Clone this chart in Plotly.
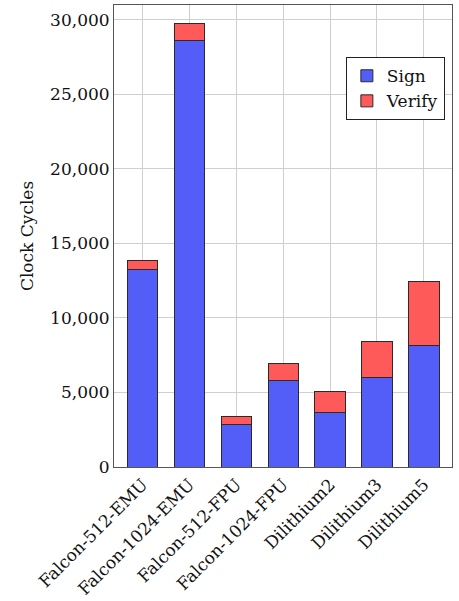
import plotly.graph_objects as go

categories = ["Falcon-512-EMU", "Falcon-1024-EMU", "Falcon-512-FPU", "Falcon-1024-FPU",
              "Dilithium2", "Dilithium3", "Dilithium5"]
sign = [13280, 28600, 2845, 5795, 3670, 5995, 8140]
verify = [560, 1140, 555, 1140, 1405, 2455, 4315]
y_ticks = [0, 5000, 10000, 15000, 20000, 25000, 30000]
y_tick_labels = ["0", "5,000", "10,000", "15,000", "20,000", "25,000", "30,000"]

FONT = "DejaVu Serif"
x = list(range(len(categories)))

fig = go.Figure()
fig.add_trace(go.Bar(x=x, y=sign, name="Sign", width=0.65,
                     marker=dict(color="#535EF8", line=dict(color="#2a2a2a", width=1))))
fig.add_trace(go.Bar(x=x, y=verify, name="Verify", width=0.65,
                     marker=dict(color="#FF5A5A", line=dict(color="#2a2a2a", width=1))))

fig.update_layout(
    width=459, height=601,
    margin=dict(l=114, r=7, t=5, b=134),
    barmode="stack",
    plot_bgcolor="white", paper_bgcolor="white",
    font=dict(family=FONT, size=17, color="#111"),
    legend=dict(x=0.686, y=0.887, xanchor="left", yanchor="top",
                bordercolor="#222", borderwidth=1, bgcolor="white",
                font=dict(size=17, family=FONT), traceorder="normal",
                itemwidth=30, tracegroupgap=0),
    xaxis=dict(range=[-0.61, 6.6], tickmode="array", tickvals=x, ticktext=categories,
               tickangle=-45, showgrid=True, gridcolor="#cfcfcf", gridwidth=1,
               showline=True, linecolor="#555", linewidth=1, mirror=True, automargin=False,
               ticks="", tickfont=dict(size=17, family=FONT), zeroline=False),
    yaxis=dict(range=[0, 31000], tickmode="array", tickvals=y_ticks, ticktext=y_tick_labels,
               showgrid=True, gridcolor="#cfcfcf", gridwidth=1, automargin=False,
               showline=True, linecolor="#555", linewidth=1, mirror=True,
               ticks="", tickfont=dict(size=17, family=FONT), zeroline=False,
               title=dict(text="Clock Cycles", font=dict(size=17, family=FONT), standoff=12)),
)

fig.write_html("out.html")
